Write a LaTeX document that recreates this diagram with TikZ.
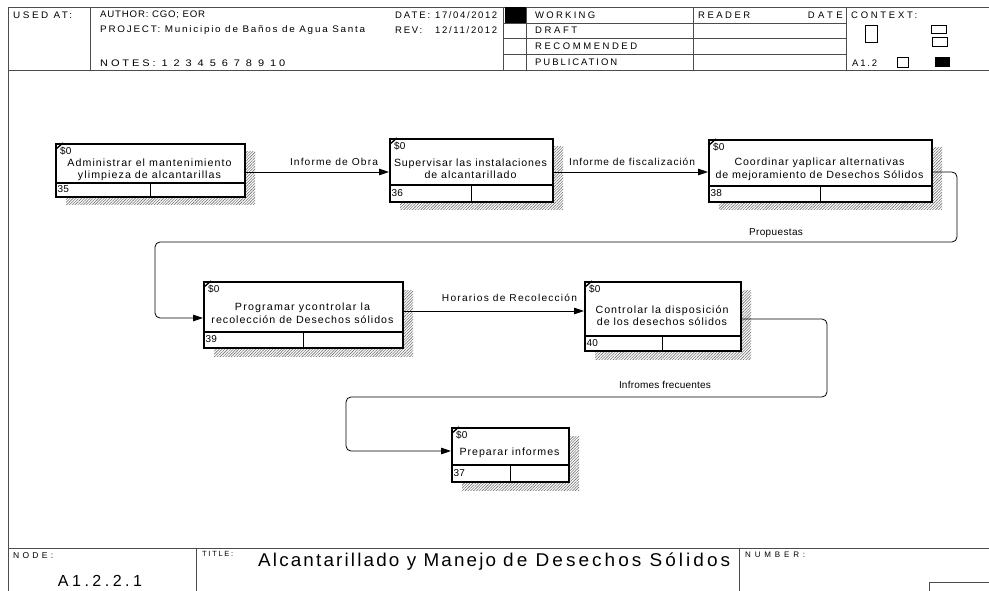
\documentclass[tikz,border=0pt]{standalone}
\usepackage{fontspec}
\usepackage{graphicx}
\setmainfont{Liberation Sans}
\usetikzlibrary{arrows.meta,patterns.meta}

% set a text to a given width (in pt) by tracking its letters,
% with a final small scaling for what tracking leaves over
\ExplSyntaxOn
\fp_new:N \l_fit_ls_fp
\box_new:N \l_fit_box
\NewDocumentCommand \fitw { m m }
  {
    \hbox_set:Nn \l_fit_box {#2}
    \fp_set:Nn \l_fit_ls_fp
      {
        round( 100 * ( #1 - \dim_to_fp:n { \box_wd:N \l_fit_box } )
        / max(1, \str_count:n {#2} - 1) / \use:c { f@size } , 2)
      }
    \hbox_set:Nn \l_fit_box
      { \addfontfeatures { LetterSpace = \fp_use:N \l_fit_ls_fp } #2 }
    \resizebox { #1 pt } { \height } { \box_use:N \l_fit_box }
  }
\ExplSyntaxOff

\tikzset{
  rule/.style={draw=black!70, line width=0.8pt},
  thinbox/.style={draw=black, line width=0.7pt},
  actframe/.style={rectangle, draw=black, fill=white, line width=1.6pt,
    inner sep=0pt, anchor=north west},
  actline/.style={draw=black, line width=1.3pt},
  shade/.style={pattern={Lines[angle=45,distance=2pt,line width=0.6pt]},
    pattern color=black!55},
  costtick/.style={draw=black, line width=1.4pt},
  small/.style={anchor=west, inner sep=0pt, font=\fontsize{10}{11}\selectfont},
  acttext/.style={align=center, inner sep=0pt, font=\fontsize{10.5}{12.5}\selectfont},
  flow/.style={draw=black, line width=0.8pt, rounded corners=5pt,
    -{Triangle[length=10pt,width=6.5pt]}},
  flowlbl/.style={inner sep=0pt, font=\fontsize{10}{11}\selectfont},
  hdr/.style={anchor=west, inner sep=0pt, font=\fontsize{9.5}{10}\selectfont},
  tiny/.style={anchor=west, inner sep=0pt, font=\fontsize{8.5}{9}\selectfont},
}

% activity box: name, left, top, right, bottom, divider y, number, text, text centre y
\newcommand\ActBox[9]{%
  \fill[shade] (#2+11,#3+9) rectangle (#4+11,#5+9);
  \node[actframe, minimum width=#4pt-#2pt, minimum height=#5pt-#3pt] (#1) at (#2,#3) {};
  \draw[actline] (#1.west |- 0,#6) -- (#1.east |- 0,#6);
  \draw[actline] (#1.south |- 0,#6) -- (#1.south);
  \draw[costtick] ([xshift=1pt,yshift=-6pt]#1.north west) -- ([xshift=8pt]#1.north west);
  \node[small] (#1-cost) at ([xshift=5pt,yshift=-8.5pt]#1.north west) {\$0};
  \node[small] (#1-num) at (#2+2.5,{(#6+#5)/2}) {#7};
  \node[acttext] (#1-text) at ({(#2+#4)/2},#9) {#8};
}

\begin{document}
\begin{tikzpicture}[x=1pt,y=-1pt]
\useasboundingbox (0,0) rectangle (989,591);
\fill[white] (0,0) rectangle (989,591);

% ---------- header block ----------
\draw[rule] (8,591) -- (8,7) -- (989,7);
\draw[rule] (8,70) -- (989,70);
\draw[rule] (90,7) -- (90,70);
\draw[rule] (503,7) -- (503,70);
\draw[rule] (526,7) -- (526,70);
\draw[rule] (693,7) -- (693,70);
\draw[rule] (846,7) -- (846,70);
\draw[rule] (503,23) -- (846,23);
\draw[rule] (503,38.5) -- (846,38.5);
\draw[rule] (503,54) -- (846,54);
\fill[black] (505,7) rectangle (526,23);

\node[hdr] (usedat)  at (13,15)    {\fitw{59}{USED AT:}};
\node[hdr] (author)  at (100,15)   {\fitw{105}{AUTHOR: CGO; EOR}};
\node[hdr] (project) at (100,30.5) {\fitw{265}{PROJECT: Municipio de Baños de Agua Santa}};
\node[hdr] (notes)   at (100,63)   {\fitw{185}{NOTES: 1 2 3 4 5 6 7 8 9 10}};
\node[hdr] (datek)   at (395,15)   {\fitw{35}{DATE:}};
\node[hdr] (datev)   at (435,15)   {\fitw{62}{17/04/2012}};
\node[hdr] (revk)    at (395,30.5) {\fitw{27}{REV:}};
\node[hdr] (revv)    at (435,30.5) {\fitw{62}{12/11/2012}};
\node[hdr] (working) at (535,15)   {\fitw{60}{WORKING}};
\node[hdr] (draft)   at (535,30.5) {\fitw{42}{DRAFT}};
\node[hdr] (recom)   at (535,46.5) {\fitw{102}{RECOMMENDED}};
\node[hdr] (public)  at (535,62.5) {\fitw{82}{PUBLICATION}};
\node[hdr] (reader)  at (698,15)   {\fitw{52}{READER}};
\node[hdr, anchor=east] (rdate) at (843,15) {\fitw{35}{DATE}};
\node[hdr] (context) at (851,15)   {\fitw{66}{CONTEXT:}};
\node[hdr] (ctxnode) at (852,63)   {\fitw{25}{A1.2}};

% context thumbnails
\draw[thinbox] (865.5,25) rectangle (877,42);
\draw[thinbox] (931,25) rectangle (946,33.5);
\draw[thinbox] (932,37.5) rectangle (947,46);
\draw[thinbox] (897,57) rectangle (908.5,67);
\fill[black] (935,57) rectangle (950,67);

% ---------- footer block ----------
\draw[rule] (8,548) -- (989,548);
\draw[rule] (196,548) -- (196,591);
\draw[rule] (739,548) -- (739,591);
\draw[rule] (929,591) -- (929,582) -- (989,582);

\node[tiny] (nodek)  at (13,556)  {\fitw{40}{NODE:}};
\node[inner sep=0pt, font=\fontsize{16}{18}\selectfont] (nodev) at (100,581) {\fitw{84}{A1.2.2.1}};
\node[tiny, font=\fontsize{7.5}{8}\selectfont] (titlek) at (202,554) {\fitw{31}{TITLE:}};
\node[anchor=west, inner sep=0pt, font=\fontsize{18.5}{20}\selectfont] (title) at (258,562)
  {\fitw{238}{Alcantarillado y Manejo}\hspace{7pt}\fitw{227}{de Desechos Sólidos}};
\node[tiny, font=\fontsize{8}{9}\selectfont] (numk) at (745,555) {\fitw{60}{NUMBER:}};

% ---------- activity boxes ----------
\ActBox{b1}{55}{143}{244}{196}{183}{35}
  {\fitw{164}{Administrar el mantenimiento}\\\fitw{143}{ylimpieza de alcantarillas}}{170}
\ActBox{b2}{389}{138}{552}{201}{185}{36}
  {\fitw{153}{Supervisar las instalaciones}\\\fitw{92}{de alcantarillado}}{168.5}
\ActBox{b3}{708}{139}{931}{201}{186}{38}
  {\fitw{170}{Coordinar yaplicar alternativas}\\\fitw{208}{de mejoramiento de Desechos Sólidos}}{169.5}
\ActBox{b4}{203}{281}{402}{347}{332}{39}
  {\fitw{135}{Programar ycontrolar la}\\\fitw{182}{recolección de Desechos sólidos}}{313}
\ActBox{b5}{584}{281}{740}{350}{336}{40}
  {\fitw{133}{Controlar la disposición}\\\fitw{130}{de los desechos sólidos}}{315.5}
\ActBox{b6}{451}{427}{568}{481}{465}{37}
  {\fitw{100}{Preparar informes}}{453}

% ---------- flows ----------
\coordinate (r1) at (957,242);
\coordinate (l1) at (155,242);
\coordinate (r2) at (827,397);
\coordinate (l2) at (346,397);

\draw[flow] (b1.east |- 0,172) -- (b2.west |- 0,172);
\draw[flow] (b2.east |- 0,172) -- (b3.west |- 0,172);
\draw[flow] (b3.east |- 0,172) -| (r1) -- (l1) |- (b4.west |- 0,318);
\draw[flow] (b4.east |- 0,311) -- (b5.west |- 0,311);
\draw[flow] (b5.east |- 0,319) -| (r2) -- (l2) |- (b6.west |- 0,451);

\node[flowlbl] (f1) at (334,162)   {\fitw{88}{Informe de Obra}};
\node[flowlbl] (f2) at (632,162)   {\fitw{126}{Informe de fiscalización}};
\node[flowlbl] (f3) at (776,233)   {\fitw{54}{Propuestas}};
\node[flowlbl] (f4) at (509.5,298) {\fitw{135}{Horarios de Recolección}};
\node[flowlbl] (f5) at (665,385)   {\fitw{92}{Infromes frecuentes}};
\end{tikzpicture}
\end{document}
